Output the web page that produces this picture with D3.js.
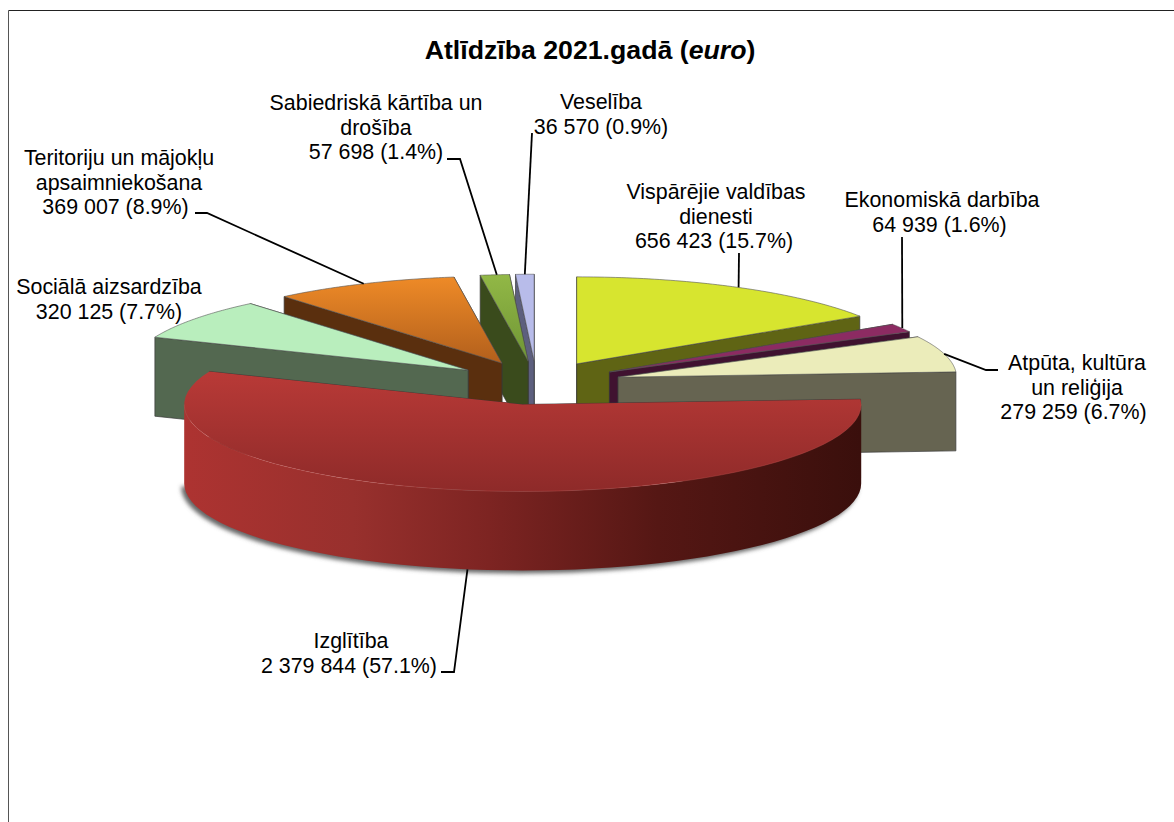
<!DOCTYPE html>
<html>
<head>
<meta charset="utf-8">
<script src="https://d3js.org/d3.v7.min.js"></script>
<style>
html, body { margin: 0; padding: 0; background: #fff; }
svg { display: block; }
text { font-family: "Liberation Sans", Arial, sans-serif; fill: #000; }
</style>
</head>
<body>
<svg width="1174" height="822"></svg>
<script>
var categories = ["Vispārējie valdības dienesti", "Ekonomiskā darbība", "Atpūta, kultūra un reliģija", "Izglītība",
  "Sociālā aizsardzība", "Teritoriju un mājokļu apsaimniekošana", "Sabiedriskā kārtība un drošība", "Veselība"];
var values = [656423, 64939, 279259, 2379844, 320125, 369007, 57698, 36570];
var percents = ["15.7%", "1.6%", "6.7%", "57.1%", "7.7%", "8.9%", "1.4%", "0.9%"];
var nameLines = [["Vispārējie valdības", "dienesti"], ["Ekonomiskā darbība"], ["Atpūta, kultūra", "un reliģija"], ["Izglītība"],
  ["Sociālā aizsardzība"], ["Teritoriju un mājokļu", "apsaimniekošana"], ["Sabiedriskā kārtība un", "drošība"], ["Veselība"]];

// colours: top face, side wall
var topColors = ["#d7e52f", "#8c2b62", "#ebecba", "#b93a37", "#b9eebd", "#ee8a27", "#92b846", "#b8bcea"];
var topColorsLow = ["#d7e52f", "#8c2b62", "#ebecba", "#8e2a29", "#b9eebd", "#b25f1c", "#6f9535", "#b8bcea"];
var wallColors = ["#5f6414", "#401230", "#666451", "#4e1613", "#536850", "#5a2f0e", "#3a4b1c", "#5d5f7e"];

// label centre x, first line centre y
var labelX = [716, 942, 1073, 349, 109, 119, 376, 601];
var labelY = [192, 200, 363, 641, 287, 158, 103, 102];
// the name lines and the number line are not centred on quite the same x
var nameShift = [0, 0, 4, 2, 0, 0, 0, 0];
var numberShift = [-2, -2.5, 0.5, 0, 0, -3.5, 0, 0];
// leader bends, the last point sits next to the label
var leaderBends = [[[739, 253]], [[902, 237]], [[986, 370], [998, 370]], [[454, 672], [441, 672]], [],
  [[207, 213], [195, 213]], [[460, 159], [447, 159]], [[532, 133]]];
var leaderNudge = [1, 1, 0, 0, 0, 0, 2, 0];

var cx = 536.5, cy = 383, rx = 338.5, ry = 87, depth = 79, explode = 0.25;

var svg = d3.select("svg");
var defs = svg.append("defs");
var fmt = d3.formatLocale({decimal: ".", thousands: " ", grouping: [3], currency: ["", ""]}).format(",d");

// frame, only top and left sides fall inside the picture
svg.append("line").attr("x1", 8.5).attr("y1", 10.5).attr("x2", 1174).attr("y2", 10.5).attr("stroke", "#222").attr("stroke-width", 1);
svg.append("line").attr("x1", 8.5).attr("y1", 10.5).attr("x2", 8.5).attr("y2", 822).attr("stroke", "#555").attr("stroke-width", 1);

var title = svg.append("text").attr("x", 590).attr("y", 59).attr("text-anchor", "middle")
  .attr("font-size", 26.7).attr("font-weight", "bold");
title.append("tspan").text("Atlīdzība 2021.gadā (");
title.append("tspan").attr("font-style", "italic").text("euro");
title.append("tspan").text(")");

var pie = d3.pie().sort(null)(values);
var line = d3.line();

pie.forEach(function(d) {
  var mid = (d.startAngle + d.endAngle) / 2;
  d.mid = mid;
  d.x = cx + explode * rx * Math.sin(mid);
  d.y = cy - explode * ry * Math.cos(mid);
});

function rim(d, t) {
  return [d.x + rx * Math.sin(t), d.y - ry * Math.cos(t)];
}
function down(p) {
  return [p[0], p[1] + depth];
}
function arcPoints(d, a, b) {
  return d3.range(0, 61).map(function(i) {
    return rim(d, a + (b - a) * i / 60);
  });
}

pie.forEach(function(d, i) {
  var g = defs.append("linearGradient").attr("id", "top" + i).attr("x1", 0).attr("y1", 0).attr("x2", 0).attr("y2", 1);
  g.append("stop").attr("offset", 0).attr("stop-color", topColors[i]);
  g.append("stop").attr("offset", 1).attr("stop-color", topColorsLow[i]);
});

var rimGrad = defs.append("linearGradient").attr("id", "rimGrad").attr("gradientUnits", "objectBoundingBox");
[[0, "#ad3331"], [0.25, "#98302d"], [0.45, "#7d2422"], [0.7, "#551714"], [1, "#3a0f0c"]].forEach(function(s) {
  rimGrad.append("stop").attr("offset", s[0]).attr("stop-color", s[1]);
});
defs.append("filter").attr("id", "blur").attr("x", "-5%").attr("y", "-10%").attr("width", "110%").attr("height", "120%")
  .append("feGaussianBlur").attr("stdDeviation", 2);

// paint back slices first
var order = pie.map(function(d, i) { return i; }).sort(function(a, b) { return pie[a].y - pie[b].y; });

order.forEach(function(i) {
  var d = pie[i], g = svg.append("g");
  var apex = [d.x, d.y];

  // the cut that faces the viewer goes last
  var cuts = d.mid > Math.PI ? [d.endAngle, d.startAngle] : [d.startAngle, d.endAngle];
  cuts.forEach(function(t) {
    var p = rim(d, t);
    g.append("path")
      .attr("d", line([apex, p, down(p), down(apex)]) + "Z")
      .attr("fill", wallColors[i])
      .attr("stroke", "#3a3a3a").attr("stroke-width", 0.7);
  });

  // outer wall, only the part facing the viewer
  var a = Math.max(d.startAngle, Math.PI / 2), b = Math.min(d.endAngle, Math.PI * 1.5);
  if (b > a) {
    var front = arcPoints(d, a, b);
    var big = d.value === d3.max(values);
    if (big) {
      g.append("path")
        .attr("d", line(front.map(down).map(function(p) { return [p[0] - 3, p[1] + 3]; })) + "Z")
        .attr("fill", "#666").attr("filter", "url(#blur)");
    }
    g.append("path")
      .attr("d", line(front.concat(front.map(down).reverse())) + "Z")
      .attr("fill", big ? "url(#rimGrad)" : wallColors[i]);
  }

  g.append("path")
    .attr("d", line([apex].concat(arcPoints(d, d.startAngle, d.endAngle))) + "Z")
    .attr("fill", "url(#top" + i + ")")
    .attr("stroke", d.value === d3.max(values) ? "none" : "#555").attr("stroke-width", 0.6);

  if (b > a) {
    g.append("path").attr("d", line(arcPoints(d, a, b))).attr("fill", "none")
      .attr("stroke", "#c05550").attr("stroke-width", 0.6).attr("stroke-opacity", 0.6);
  }
});

// leaders
pie.forEach(function(d, i) {
  if (!leaderBends[i].length) return;
  var s = rim(d, d.mid);
  if (Math.cos(d.mid) < 0) s = down(s);
  s = [s[0] + leaderNudge[i], s[1]];
  svg.append("path").attr("d", line([s].concat(leaderBends[i])))
    .attr("fill", "none").attr("stroke", "#000").attr("stroke-width", 1.8);
});

// labels
pie.forEach(function(d, i) {
  var names = nameLines[i];
  var lines = names.concat([fmt(values[i]).replace(/,/g, " ") + " (" + percents[i] + ")"]);
  svg.append("text").attr("text-anchor", "middle").attr("font-size", 21.4)
    .selectAll("tspan").data(lines).enter().append("tspan")
    .attr("x", function(l, k) { return labelX[i] + (k < names.length ? nameShift[i] : numberShift[i]); })
    .attr("y", function(l, k) { return labelY[i] + 7 + k * 24.5; })
    .text(function(l) { return l; });
});
</script>
</body>
</html>
